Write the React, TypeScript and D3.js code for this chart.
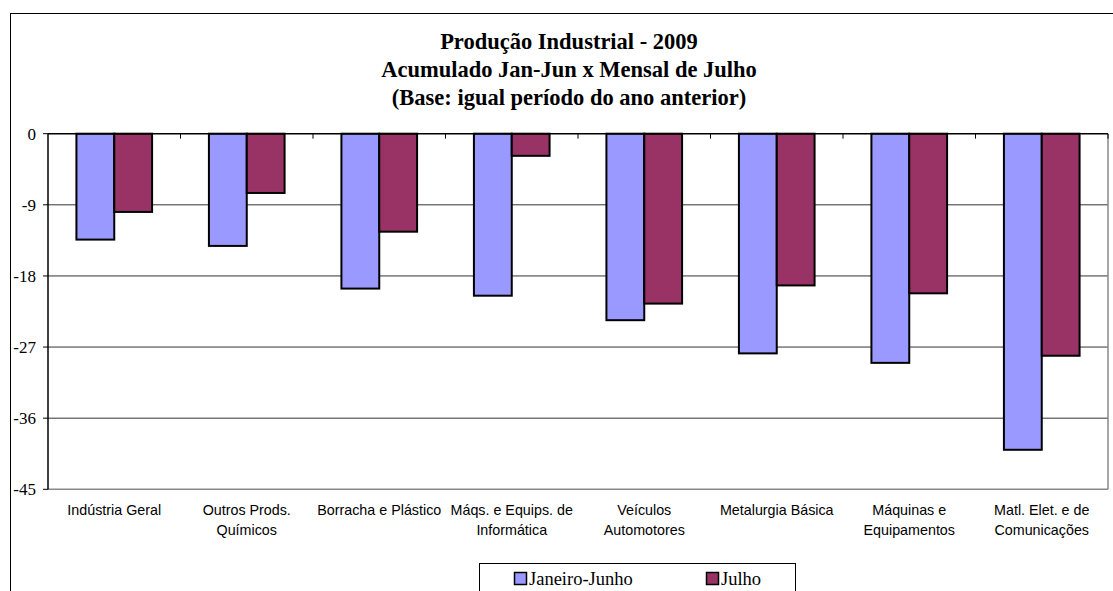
import React from "react";
import * as d3 from "d3";

const titleLines = [
  "Produção Industrial - 2009",
  "Acumulado Jan-Jun x Mensal de Julho",
  "(Base: igual período do ano anterior)",
];
const categories = [
  "Indústria Geral",
  "Outros Prods.\nQuímicos",
  "Borracha e Plástico",
  "Máqs. e Equips. de\nInformática",
  "Veículos\nAutomotores",
  "Metalurgia Básica",
  "Máquinas e\nEquipamentos",
  "Matl. Elet. e de\nComunicações",
];
const seriesNames = ["Janeiro-Junho", "Julho"];
const janJun = [-13.4, -14.2, -19.6, -20.5, -23.6, -27.8, -29.0, -40.0];
const julho = [-9.9, -7.5, -12.4, -2.8, -21.5, -19.2, -20.2, -28.1];
const yTicks = [0, -9, -18, -27, -36, -45];
const colors = ["#9999FF", "#993366"];

export default function App() {
  const W = 1113, H = 591;
  const left = 48, right = 1108, top = 133.7, bottom = 489.3;
  const y = d3.scaleLinear().domain([0, -45]).range([top, bottom]);
  const x0 = d3.scaleBand<string>().domain(categories).range([left, right]).paddingInner(0).paddingOuter(0);
  const groupW = x0.bandwidth() * 0.571;
  const x1 = d3.scaleBand<string>().domain(seriesNames).range([0, groupW]).padding(0);
  const series = [janJun, julho];
  const cx = 569;
  const serif = "'Liberation Serif', 'Times New Roman', Times, serif";

  return (
    <svg width={W} height={H} style={{ position: "absolute", left: 0, top: 0, background: "#fff" }}>
      <rect x={10.5} y={13.5} width={1140} height={620} fill="#fff" stroke="#000" strokeWidth={1} />
      {titleLines.map((t, i) => (
        <text key={i} x={cx} y={49 + i * 28} textAnchor="middle" fontFamily={serif} fontWeight="bold" fontSize={22.5} fill="#000">{t}</text>
      ))}
      {yTicks.filter(v => v !== 0 && v !== -45).map(v => (
        <line key={v} x1={left} x2={right} y1={y(v)} y2={y(v)} stroke="#333" strokeWidth={1} />
      ))}
      <line x1={right} x2={right} y1={top} y2={bottom} stroke="#888" strokeWidth={1.5} />
      <line x1={left} x2={right} y1={bottom} y2={bottom} stroke="#888" strokeWidth={1.5} />
      {categories.map((c, ci) => (
        <g key={c} transform={`translate(${(x0(c) as number) + (x0.bandwidth() - groupW) / 2},0)`}>
          {series.map((s, si) => (
            <rect key={si} x={x1(seriesNames[si])} y={y(0)} width={x1.bandwidth()} height={y(s[ci]) - y(0)}
              fill={colors[si]} stroke="#000" strokeWidth={2} />
          ))}
        </g>
      ))}
      <line x1={left} x2={left} y1={top} y2={bottom} stroke="#000" strokeWidth={1.5} />
      {yTicks.map(v => (
        <g key={v}>
          <line x1={left - 5} x2={left} y1={y(v)} y2={y(v)} stroke="#000" strokeWidth={1} />
          <text x={36} y={y(v) + 6} textAnchor="end" fontFamily={serif} fontSize={17} fill="#000">{v}</text>
        </g>
      ))}
      <line x1={left} x2={right} y1={y(0)} y2={y(0)} stroke="#000" strokeWidth={1.5} />
      {categories.map((c, ci) => ci > 0 ? (
        <line key={c} x1={x0(c)} x2={x0(c)} y1={y(0)} y2={y(0) + 5} stroke="#000" strokeWidth={1} />
      ) : null)}
      <line x1={right} x2={right} y1={y(0)} y2={y(0) + 5} stroke="#000" strokeWidth={1} />
      {categories.map(c => (
        <text key={c} textAnchor="middle" fontFamily="'Liberation Sans', Arial, sans-serif" fontSize={14.3} fill="#000">
          {c.split("\n").map((ln, li) => (
            <tspan key={li} x={(x0(c) as number) + x0.bandwidth() / 2} y={515 + li * 20}>{ln}</tspan>
          ))}
        </text>
      ))}
      <rect x={479.5} y={563.5} width={316} height={40} fill="#fff" stroke="#000" strokeWidth={1} />
      {seriesNames.map((s, si) => (
        <g key={s} transform={`translate(${si === 0 ? 514 : 706},0)`}>
          <rect x={0.5} y={572.5} width={12} height={12} fill={colors[si]} stroke="#000" strokeWidth={1.5} />
          <text x={15} y={585} fontFamily={serif} fontSize={18.5} fill="#000">{s}</text>
        </g>
      ))}
    </svg>
  );
}
